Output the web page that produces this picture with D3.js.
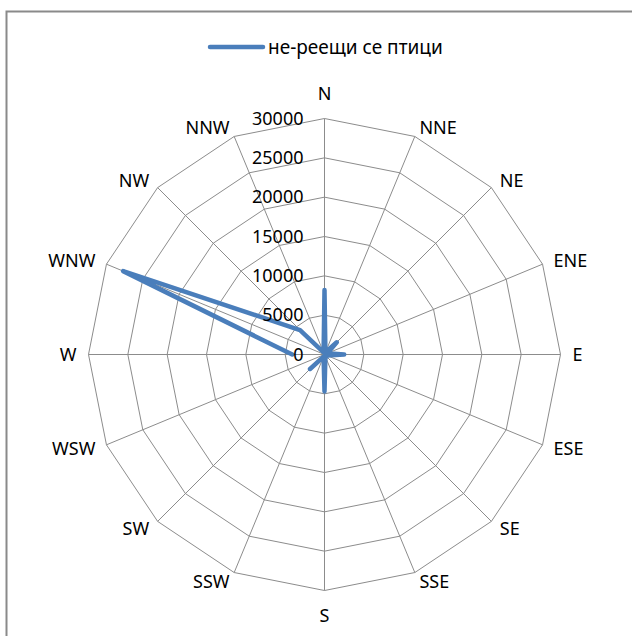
<!DOCTYPE html>
<html>
<head>
<meta charset="utf-8">
<script src="https://cdn.jsdelivr.net/npm/d3@7"></script>
<style>
    html, body { margin: 0; padding: 0; background: #fff; }
    svg { display: block; font-family: "Noto Sans", "Open Sans", sans-serif; }
</style>
</head>
<body>
<svg id="chart" width="632" height="636"></svg>
<script>
// Chart data
const directions = ['N', 'NNE', 'NE', 'ENE', 'E', 'ESE', 'SE', 'SSE',
                    'S', 'SSW', 'SW', 'WSW', 'W', 'WNW', 'NW', 'NNW'];
const birdCounts = [8200, 300, 2200, 400, 2500, 300, 400, 300,
                    4700, 300, 2600, null, 4100, 27700, 4400, 300];
const tickValues = [0, 5000, 10000, 15000, 20000, 25000, 30000];
const seriesName = 'не-реещи се птици';

const svg = d3.select('#chart');
const cx = 324.5, cy = 354.5, radius = 236;
const color = '#4A7EBB';

// Chart frame (only top and left edges fall inside the view)
svg.append('rect')
    .attr('x', 6.5)
    .attr('y', 11.5)
    .attr('width', 700)
    .attr('height', 700)
    .attr('fill', 'none')
    .attr('stroke', '#8a8a8a')
    .attr('stroke-width', 2);

const angle = d3.scalePoint()
    .domain(directions)
    .range([0, 2 * Math.PI * (directions.length - 1) / directions.length]);

const r = d3.scaleLinear().domain([0, 30000]).range([0, radius]);

const g = svg.append('g').attr('transform', `translate(${cx},${cy})`);

// Ring polygons
const ringLine = d3.lineRadial()
    .angle(d => angle(d))
    .curve(d3.curveLinearClosed);

tickValues.slice(1).forEach(v => {
    g.append('path')
        .attr('d', ringLine.radius(r(v))(directions))
        .attr('fill', 'none')
        .attr('stroke', '#8c8c8c')
        .attr('stroke-width', 1);
});

// Spokes
g.selectAll('.spoke')
    .data(directions)
    .enter()
    .append('line')
    .attr('class', 'spoke')
    .attr('x1', 0).attr('y1', 0)
    .attr('x2', d => r(30000) * Math.sin(angle(d)))
    .attr('y2', d => -r(30000) * Math.cos(angle(d)))
    .attr('stroke', '#8c8c8c')
    .attr('stroke-width', 1);

// Series line (gap where value is missing)
const points = directions.map((d, i) => ({ dir: d, value: birdCounts[i] }));
points.push(points[0]);

const seriesLine = d3.lineRadial()
    .defined(d => d.value != null)
    .angle(d => angle(d.dir))
    .radius(d => r(d.value));

g.append('path')
    .attr('d', seriesLine(points))
    .attr('fill', 'none')
    .attr('stroke', color)
    .attr('stroke-width', 4.5)
    .attr('stroke-linejoin', 'round')
    .attr('stroke-linecap', 'round');

// Value axis tick labels
g.selectAll('.tick-label')
    .data(tickValues)
    .enter()
    .append('text')
    .attr('class', 'tick-label')
    .attr('x', -21)
    .attr('y', d => -r(d))
    .attr('dy', '0.35em')
    .attr('text-anchor', 'end')
    .attr('font-size', '18px')
    .attr('fill', '#000')
    .text(d => d);

// Direction labels
g.selectAll('.dir-label')
    .data(directions)
    .enter()
    .append('text')
    .attr('class', 'dir-label')
    .attr('x', d => {
        const a = angle(d);
        return (radius + 12) * Math.sin(a);
    })
    .attr('y', d => {
        const a = angle(d);
        const s = Math.abs(Math.sin(a)) < 0.01;
        return -(radius + 10) * Math.cos(a) - (s ? 15 * Math.cos(a) : 0);
    })
    .attr('dy', '0.35em')
    .attr('text-anchor', d => {
        const s = Math.sin(angle(d));
        return s > 0.01 ? 'start' : (s < -0.01 ? 'end' : 'middle');
    })
    .attr('font-size', '18px')
    .attr('fill', '#000')
    .text(d => d);

// Legend
const legend = svg.append('g').attr('transform', 'translate(210, 47)');
legend.append('line')
    .attr('x1', 0).attr('x2', 53)
    .attr('y1', 0).attr('y2', 0)
    .attr('stroke', color)
    .attr('stroke-width', 4.5)
    .attr('stroke-linecap', 'round');
legend.append('text')
    .attr('x', 58)
    .attr('dy', '0.35em')
    .attr('font-size', '19px')
    .attr('fill', '#000')
    .text(seriesName);
</script>
</body>
</html>
